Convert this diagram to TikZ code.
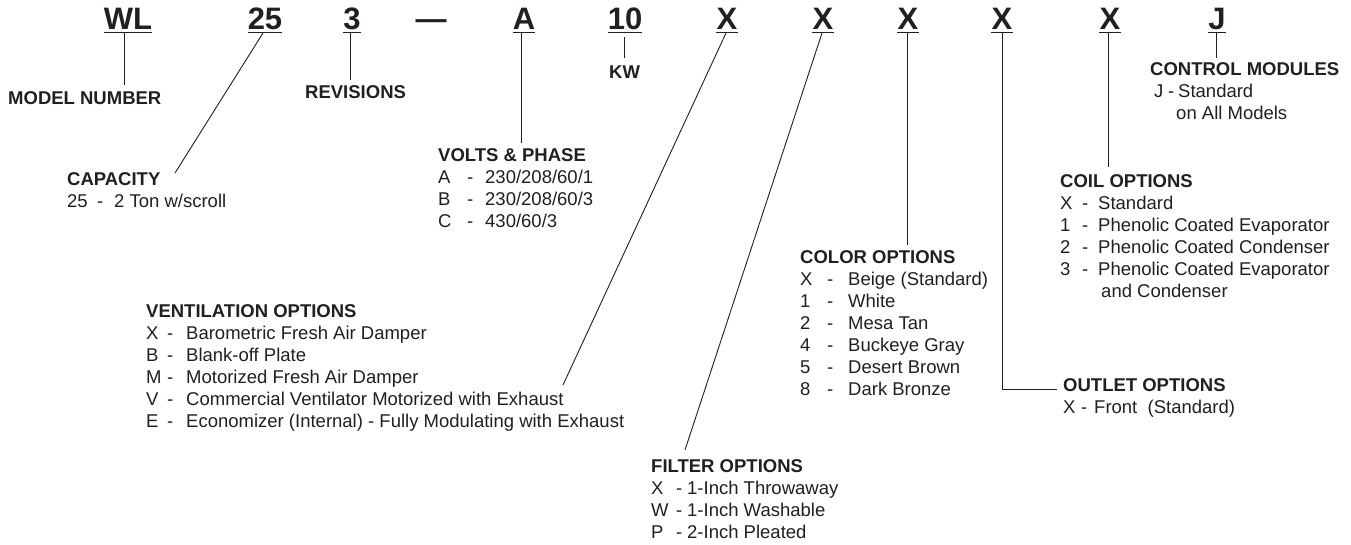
\documentclass[tikz,border=0pt]{standalone}
\usepackage{fontspec}
\setmainfont{Liberation Sans}
\usetikzlibrary{calc}
\definecolor{ink}{RGB}{35,31,32}
\newcommand\optrow[4]{\makebox[#1pt][l]{#3}\makebox[#2pt][l]{-}#4}
\begin{document}
\begin{tikzpicture}[x=1pt,y=-1pt,
  hdr/.style={font=\fontsize{31}{36}\selectfont\bfseries, text=ink, inner sep=0pt, anchor=base},
  head/.style={font=\fontsize{18.5}{22}\selectfont, text=ink, inner sep=0pt, anchor=base west},
  conn/.style={draw=ink, line width=0.9pt},
  uline/.style={draw=ink, line width=1.7pt}]
\useasboundingbox[fill=white] (0,0) rectangle (1351,544);

% header codes
\node[hdr] (hWL) at (128,29) {WL};
\node[hdr] (h25) at (265,29) {25};
\node[hdr] (h3) at (352,29) {3};
\node[hdr] (hdash) at (431,29) {—};
\node[hdr] (hA) at (524,29) {A};
\node[hdr] (h10) at (625,29) {10};
\node[hdr] (hXa) at (727,29) {X};
\node[hdr] (hXb) at (823,29) {X};
\node[hdr] (hXc) at (908,29) {X};
\node[hdr] (hXd) at (1002,29) {X};
\node[hdr] (hXe) at (1110,29) {X};
\node[hdr] (hJ) at (1217,29) {J};
\foreach \n in {hWL,h25,h3,hA,h10,hXa,hXb,hXc,hXd,hXe,hJ}
  \draw[uline] ($(\n.base west)+(0,3.5)$) -- ($(\n.base east)+(0,3.5)$);

% labels
\node[head] (lModel) at (8,104) {\textbf{MODEL NUMBER}};
\node[head] (lRev) at (305,98) {\textbf{REVISIONS}};
\node[head] (lKW) at (609,78) {\textbf{KW}};
\node[head] (lCap) at (67,185) {\begin{tabular}[t]{@{}l@{}}\textbf{CAPACITY}\\
  \optrow{30}{17}{25}{2 Ton w/scroll}\end{tabular}};
\node[head] (lVolts) at (438,161) {\begin{tabular}[t]{@{}l@{}}\textbf{VOLTS \& PHASE}\\
  \optrow{29}{18}{A}{230/208/60/1}\\
  \optrow{29}{18}{B}{230/208/60/3}\\
  \optrow{29}{18}{C}{430/60/3}\end{tabular}};
\node[head] (lVent) at (146,317) {\begin{tabular}[t]{@{}l@{}}\textbf{VENTILATION OPTIONS}\\
  \optrow{21}{19}{X}{Barometric Fresh Air Damper}\\
  \optrow{21}{19}{B}{Blank-off Plate}\\
  \optrow{21}{19}{M}{Motorized Fresh Air Damper}\\
  \optrow{21}{19}{V}{Commercial Ventilator Motorized with Exhaust}\\
  \optrow{21}{19}{E}{Economizer (Internal) - Fully Modulating with Exhaust}\end{tabular}};
\node[head] (lFilter) at (651,472) {\begin{tabular}[t]{@{}l@{}}\textbf{FILTER OPTIONS}\\
  \optrow{25}{11}{X}{1-Inch Throwaway}\\
  \optrow{25}{11}{W}{1-Inch Washable}\\
  \optrow{25}{11}{P}{2-Inch Pleated}\end{tabular}};
\node[head] (lColor) at (800,263) {\begin{tabular}[t]{@{}l@{}}\textbf{COLOR OPTIONS}\\
  \optrow{27}{21}{X}{Beige (Standard)}\\
  \optrow{27}{21}{1}{White}\\
  \optrow{27}{21}{2}{Mesa Tan}\\
  \optrow{27}{21}{4}{Buckeye Gray}\\
  \optrow{27}{21}{5}{Desert Brown}\\
  \optrow{27}{21}{8}{Dark Bronze}\end{tabular}};
\node[head] (lOutlet) at (1063,391) {\begin{tabular}[t]{@{}l@{}}\textbf{OUTLET OPTIONS}\\
  \optrow{18}{13}{X}{Front\ \ (Standard)}\end{tabular}};
\node[head] (lCoil) at (1060,187) {\begin{tabular}[t]{@{}l@{}}\textbf{COIL OPTIONS}\\
  \optrow{22}{16}{X}{Standard}\\
  \optrow{22}{16}{1}{Phenolic Coated Evaporator}\\
  \optrow{22}{16}{2}{Phenolic Coated Condenser}\\
  \optrow{22}{16}{3}{Phenolic Coated Evaporator}\\
  \hspace*{41pt}and Condenser\end{tabular}};
\node[head] (lCtrl) at (1150,75) {\begin{tabular}[t]{@{}l@{}}\textbf{CONTROL MODULES}\\
  \hspace*{4pt}\optrow{14}{10}{J}{Standard}\\
  \hspace*{26pt}on All Models\end{tabular}};

% free ends of connectors
\coordinate (eWL) at (124,85);
\coordinate (e25) at (175,173);
\coordinate (e3) at (350,80);
\coordinate (eA) at (521,143);
\coordinate (e10) at (624,58);
\coordinate (eXa) at (563,385);
\coordinate (eXb) at (685,450);
\coordinate (eXc) at (907,245);
\coordinate (eXd) at (1057,389);
\coordinate (eXe) at (1108,167);
\coordinate (eJ) at (1216,58);

% connectors
\draw[conn] ($(hWL.base -| eWL)+(0,4)$) -- (eWL);
\draw[conn] ($(h25.base)+(-2,4)$) -- (e25);
\draw[conn] ($(h3.base -| e3)+(0,4)$) -- (e3);
\draw[conn] ($(hA.base -| eA)+(0,4)$) -- (eA);
\draw[conn] ($(h10.base -| e10)+(0,8)$) -- (e10);
\draw[conn] ($(hXa.base)+(-1,4)$) -- (eXa);
\draw[conn] ($(hXb.base)+(-1,4)$) -- (eXb);
\draw[conn] ($(hXc.base -| eXc)+(0,4)$) -- (eXc);
\draw[conn] ($(hXd.base)+(0,4)$) |- (eXd);
\draw[conn] ($(hXe.base -| eXe)+(0,4)$) -- (eXe);
\draw[conn] ($(hJ.base -| eJ)+(0,4)$) -- (eJ);
\end{tikzpicture}
\end{document}
